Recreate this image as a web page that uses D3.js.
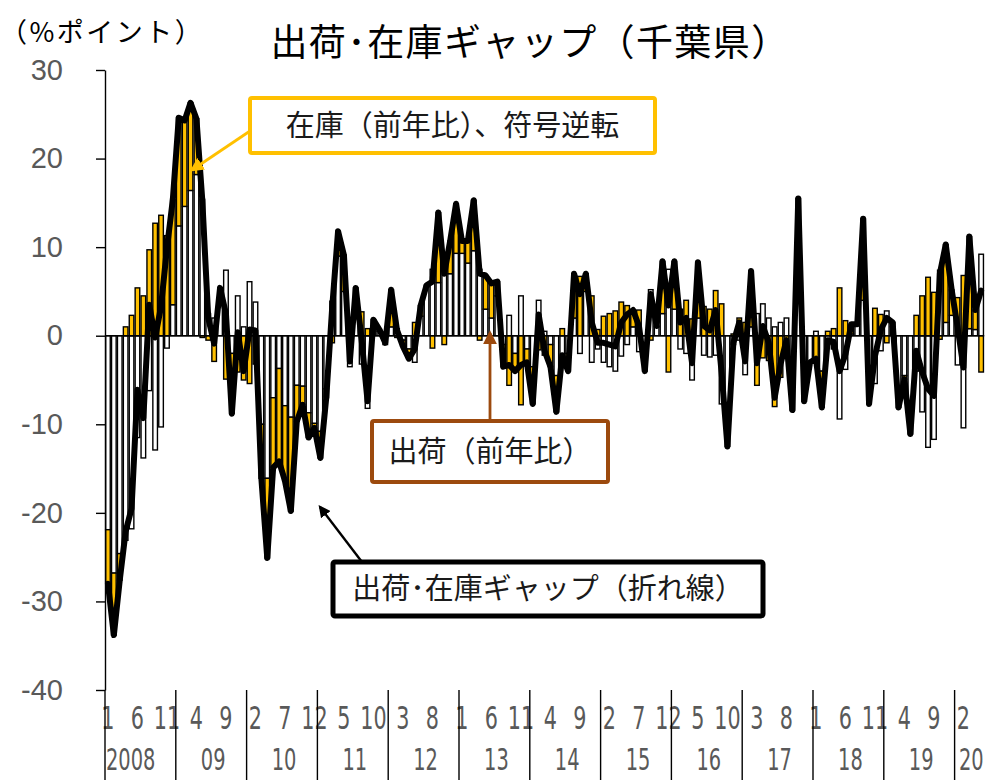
<!DOCTYPE html>
<html>
<head>
<meta charset="utf-8">
<script src="https://cdn.jsdelivr.net/npm/d3@7"></script>
<style>
  body { margin: 0; background: #fff; }
  .jp { font-family: "Noto Sans CJK JP", "Noto Sans", sans-serif; }
  .num { font-family: "Liberation Sans Narrow", "DejaVu Sans Condensed", "Roboto", sans-serif; }
  .ynum { font-family: "Liberation Sans", "Roboto", sans-serif; }
</style>
</head>
<body>
<svg id="chart" width="997" height="780"></svg>
<script>
// monthly, Jan 2008 .. May 2020
const yearLabels = ['2008', '09', '10', '11', '12', '13', '14', '15', '16', '17', '18', '19', '20'];
const monthLabels = ['1', '2', '3', '4', '5', '6', '7', '8', '9', '10', '11', '12'];
const yTicks = [30, 20, 10, 0, -10, -20, -30, -40];

// 出荷（前年比）
const shipments = [
  -21.9, -26.8, -24.6, -23.1, -21.8, -11.5, -13.8, -6.2, -12.9, -10.3, -1.4, 3.5,
  12.4, 14.6, 16.4, 18.2, 15.4, 2.5, 2.0, 5.0, 7.4, -2.0, 4.5, 1.0,
  6.1, 3.8, -10.0, -16.1, -7.0, -3.7, -7.9, -9.2, -5.6, -5.7, -8.7, -9.9,
  -10.8, -6.0, 3.9, 9.0, 5.0, -3.5, 2.0, -3.2, -8.2, 1.0, 0.5, -1.0,
  1.0, 0.8, -0.5, -1.5, -3.0, 2.2, 5.5, 7.5, 6.0, 8.0, 7.0, 9.3,
  9.3, 8.2, 9.6, 7.5, 3.0, 2.0, 4.5, -1.0, 2.3, -2.0, 4.5, -1.5,
  -3.5, 4.0, 0.5, -1.0, -4.5, -3.0, -2.0, 2.0, -2.0, 5.0, -3.0, -1.5,
  -3.0, -3.5, -4.0, -2.3, -1.0, 1.0, -1.8, -1.5, 5.2, 1.0, 2.5, 7.5,
  3.0, -1.5, -2.0, -5.0, 2.0, -2.2, -2.4, -2.2, -7.7, -9.0, -1.0, -0.5,
  -4.4, 1.0, 2.5, 3.6, 2.0, 1.0, 1.5, 2.0, -4.0, 5.0, -4.0, -3.0,
  0.5, -4.0, -1.0, -1.5, -9.4, -3.8, 0.2, 1.3, 4.0, -5.0, -5.4, -1.7,
  2.8, 1.0, -6.0, -4.5, -8.0, -4.0, -8.6, -12.6, -11.7, 7.4, 1.5, 2.3,
  -3.3, -10.4, 0.8, 0.7, 9.2
];

// 在庫（前年比）、符号逆転
const inventoryRev = [
  -6.1, -7.0, -3.0, 1.0, 2.3, 5.4, 4.5, 9.7, 12.7, 13.6, 11.3, 11.9,
  12.2, 9.7, 9.9, 6.3, -0.2, -0.5, -2.9, 0.4, -4.9, -6.8, -4.1, -5.0,
  -5.4, -3.2, -6.1, -9.0, -7.9, -10.5, -8.5, -10.6, -4.1, -2.1, -2.8, -0.5,
  -3.0, -1.0, -0.8, 2.8, 4.1, 0.6, 3.4, 2.7, 0.8, 0.8, 0.2, 0.2,
  4.2, -0.2, -0.7, -1.1, 1.5, 1.2, 0.2, -1.4, 7.9, -1.0, 3.7, 5.6,
  1.4, 2.5, 5.7, -0.5, 3.8, 3.9, 1.6, -2.5, -5.6, -2.0, -7.8, -1.5,
  -4.2, -1.6, -2.2, -2.5, -4.1, 0.8, -2.0, 5.0, 6.7, 2.0, 4.5, 0.7,
  2.2, 2.5, 2.8, 3.8, 3.4, 1.9, 2.9, -2.5, -0.5, 0.1, 5.9, -4.1,
  5.4, 3.0, 4.0, 1.9, 6.3, 3.3, 3.0, 5.1, 3.6, -3.5, 0.2, 2.0,
  1.5, 6.3, -5.6, -2.5, -2.8, -8.0, -4.7, -2.5, -4.4, 10.5, -3.4, 0.0,
  -3.1, -4.1, 0.5, 0.8, 5.4, 1.7, 1.1, 0.0, 9.2, -2.7, 3.1, 2.4,
  -0.8, 0.5, -2.1, -0.4, -3.1, 2.3, 4.5, 6.6, 4.9, -0.4, 8.8, 2.9,
  4.3, 6.8, 10.4, 2.2, -4.1
];

// 出荷・在庫ギャップ（折れ線）
const gap = [
  -28.0, -33.8, -27.6, -22.1, -19.5, -6.1, -9.3, 3.5, -0.2, 3.3, 9.9, 15.4,
  24.6, 24.3, 26.3, 24.5, 15.2, 2.0, -0.9, 5.4, 2.5, -8.8, 0.4, -4.0,
  0.7, 0.6, -16.1, -25.1, -14.9, -14.2, -16.4, -19.8, -9.7, -7.8, -11.5, -10.4,
  -13.8, -7.0, 3.1, 11.8, 9.1, -2.9, 5.4, -0.5, -7.4, 1.8, 0.7, -0.8,
  5.2, 0.6, -1.2, -2.6, -1.5, 3.4, 5.7, 6.1, 13.9, 7.0, 10.7, 14.9,
  10.7, 10.7, 15.3, 7.0, 6.8, 5.9, 6.1, -3.5, -3.3, -4.0, -3.3, -3.0,
  -7.7, 2.4, -1.7, -3.5, -8.6, -2.2, -4.0, 7.0, 4.7, 7.0, 1.5, -0.8,
  -0.8, -1.0, -1.2, 1.5, 2.4, 2.9, 1.1, -4.0, 4.7, 1.1, 8.4, 3.4,
  8.4, 1.5, 2.0, -3.1, 8.3, 1.1, 0.6, 2.9, -4.1, -12.5, -0.8, 1.5,
  -2.9, 7.3, -3.1, 1.1, -0.8, -7.0, -3.2, -0.5, -8.4, 15.5, -7.4, -3.0,
  -2.6, -8.1, -0.5, -0.7, -4.0, -2.1, 1.3, 1.3, 13.2, -7.7, -2.3, 0.7,
  2.0, 1.5, -8.1, -4.9, -11.1, -1.7, -4.1, -6.0, -6.8, 7.0, 10.3, 5.2,
  1.0, -3.6, 11.2, 2.9, 5.1
];

const GOLD = '#ffc000';
const BROWN = '#9c4a0e';
const GREY = '#595959';
const SQUEEZE = 0.72; // category labels are drawn condensed

const svg = d3.select('#chart');
const n = shipments.length;

const x = d3.scaleBand()
  .domain(d3.range(n))
  .range([105, 984.1])
  .paddingInner(0.22)
  .paddingOuter(0.11);
const y = d3.scaleLinear().domain([-40, 30]).range([690, 70]);
const cx = i => x(i) + x.bandwidth() / 2;

// stacked bars (positives up, negatives down)
const rows = shipments.map((s, i) => ({ i, s, v: inventoryRev[i] }));
const stacked = d3.stack().keys(['s', 'v']).offset(d3.stackOffsetDiverging)(rows);
const fills = { s: '#ffffff', v: GOLD };

svg.append('g')
  .selectAll('g')
  .data(stacked)
  .join('g')
  .attr('fill', d => fills[d.key])
  .selectAll('rect')
  .data(d => d)
  .join('rect')
  .attr('x', d => x(d.data.i))
  .attr('y', d => y(Math.max(d[0], d[1])))
  .attr('width', x.bandwidth())
  .attr('height', d => Math.abs(y(d[0]) - y(d[1])))
  .attr('stroke', '#000')
  .attr('stroke-width', 1.4);

// y axis
const yAxis = svg.append('g')
  .attr('transform', 'translate(105,0)')
  .call(d3.axisLeft(y).tickValues(yTicks).tickFormat(d => String(d))
    .tickSize(9).tickSizeOuter(0).tickPadding(33));
yAxis.select('.domain').attr('stroke', '#000').attr('stroke-width', 1.4);
yAxis.selectAll('.tick line').attr('stroke', '#000').attr('stroke-width', 1.4);
yAxis.selectAll('.tick text')
  .attr('class', 'ynum')
  .attr('fill', GREY)
  .attr('font-size', 29);

// zero line
svg.append('line')
  .attr('x1', 105).attr('x2', 984.1)
  .attr('y1', y(0)).attr('y2', y(0))
  .attr('stroke', '#000').attr('stroke-width', 1.6);

// gap line
svg.append('path')
  .datum(gap)
  .attr('fill', 'none')
  .attr('stroke', '#000')
  .attr('stroke-width', 6)
  .attr('stroke-linejoin', 'round')
  .attr('stroke-linecap', 'round')
  .attr('d', d3.line().x((d, i) => cx(i)).y(d => y(d)));

// category axis: month labels every 5 months, year separators
const monthIdx = d3.range(0, n, 5);
svg.append('g')
  .selectAll('text')
  .data(monthIdx)
  .join('text')
  .attr('class', 'num')
  .attr('transform', i => `translate(${cx(i)},729) scale(${SQUEEZE},1)`)
  .attr('text-anchor', 'middle')
  .attr('font-size', 32)
  .attr('fill', GREY)
  .text(i => monthLabels[i % 12]);

const yearStarts = yearLabels.map((_, k) => k * 12);
const sepX = i => x(i) - x.step() * x.paddingInner() / 2;
svg.append('g')
  .selectAll('line')
  .data(yearStarts)
  .join('line')
  .attr('x1', sepX).attr('x2', sepX)
  .attr('y1', 690).attr('y2', 780)
  .attr('stroke', '#000').attr('stroke-width', 1.4);

svg.append('g')
  .selectAll('text')
  .data(yearLabels)
  .join('text')
  .attr('class', 'num')
  .attr('transform', (d, k) => {
    const a = k * 12, b = Math.min(n, a + 12) - 1;
    const tx = d.length > 2 ? sepX(a) + 1 : (cx(a) + cx(b)) / 2 + 2;
    return `translate(${tx},770) scale(${SQUEEZE},1)`;
  })
  .attr('text-anchor', d => d.length > 2 ? 'start' : 'middle')
  .attr('font-size', 30)
  .attr('fill', GREY)
  .text(d => d);

// titles
svg.append('text')
  .attr('class', 'jp')
  .attr('x', 530).attr('y', 56)
  .attr('text-anchor', 'middle')
  .attr('font-size', 37)
  .attr('letter-spacing', 1.4)
  .attr('fill', '#000')
  .text('出荷･在庫ギャップ（千葉県）');

svg.append('text')
  .attr('class', 'jp')
  .attr('x', 0).attr('y', 42)
  .attr('font-size', 27)
  .attr('letter-spacing', 2.5)
  .attr('fill', '#000')
  .text('（%ポイント）');

// annotations
const defs = svg.append('defs');
[['gold', GOLD], ['brown', BROWN], ['black', '#000']].forEach(([id, c]) => {
  defs.append('marker')
    .attr('id', 'arrow-' + id)
    .attr('viewBox', '0 0 10 10')
    .attr('refX', 8).attr('refY', 5)
    .attr('markerWidth', 5).attr('markerHeight', 5)
    .attr('markerUnits', 'strokeWidth')
    .attr('orient', 'auto')
    .append('path')
    .attr('d', 'M0,0 L10,5 L0,10 Z')
    .attr('fill', c);
});

const notes = [
  { text: '在庫（前年比）、符号逆転', box: [250, 98, 405, 55], color: GOLD, sw: 4,
    arrow: [250, 131, 192, 170], marker: 'gold', aw: 2.8 },
  { text: '出荷（前年比）', box: [372, 421, 236, 61], color: BROWN, sw: 4,
    arrow: [490, 421, 490, 333], marker: 'brown', aw: 2.8 },
  { text: '出荷･在庫ギャップ（折れ線）', box: [333, 562, 430, 54], color: '#000', sw: 5,
    arrow: [362, 562, 320, 507], marker: 'black', aw: 2.4 }
];

notes.forEach(nt => {
  const [bx, by, bw, bh] = nt.box;
  svg.append('line')
    .attr('x1', nt.arrow[0]).attr('y1', nt.arrow[1])
    .attr('x2', nt.arrow[2]).attr('y2', nt.arrow[3])
    .attr('stroke', nt.color)
    .attr('stroke-width', nt.aw)
    .attr('marker-end', `url(#arrow-${nt.marker})`);
  svg.append('rect')
    .attr('x', bx).attr('y', by)
    .attr('width', bw).attr('height', bh)
    .attr('rx', 2)
    .attr('fill', '#fff')
    .attr('stroke', nt.color)
    .attr('stroke-width', nt.sw);
  svg.append('text')
    .attr('class', 'jp')
    .attr('x', bx + bw / 2).attr('y', by + bh / 2 + 10)
    .attr('text-anchor', 'middle')
    .attr('font-size', 29)
    .attr('fill', '#1a1a1a')
    .text(nt.text);
});
</script>
</body>
</html>
